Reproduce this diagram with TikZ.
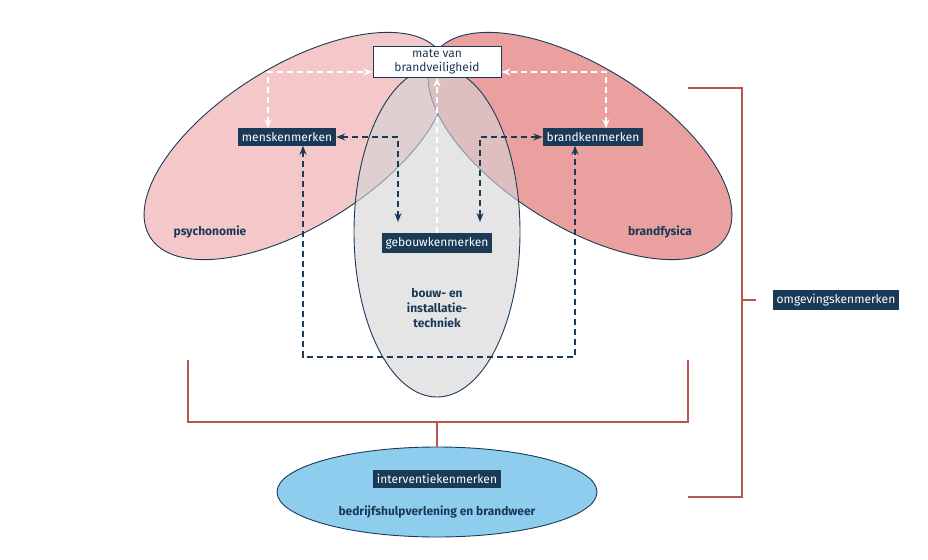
\documentclass[tikz,border=0pt]{standalone}
\usepackage{fontspec}
\setmainfont{Fira Sans}
\usetikzlibrary{arrows.meta}
\definecolor{navy}{HTML}{1B3A57}
\definecolor{lpink}{HTML}{F4C8C8}
\definecolor{dpink}{HTML}{EBA0A0}
\definecolor{gr}{HTML}{D4D4D6}
\definecolor{blu}{HTML}{8FCDEF}
\definecolor{brk}{HTML}{B5574F}
\begin{document}
\begin{tikzpicture}[x=1pt,y=-1pt,
 >={Stealth[length=9pt,width=7pt]},
 lab/.style={fill=navy,text=white,font=\fontsize{12}{14}\selectfont,inner sep=4pt},
 txt/.style={text=navy,font=\fontsize{12}{15}\selectfont\bfseries,align=center},
 nd/.style={navy,dash pattern=on 6pt off 4pt,line width=1.3pt},
 wd/.style={white,dash pattern=on 6pt off 4pt,line width=1.3pt},
 ell/.style={draw=navy,line width=0.9pt},
 br/.style={brk,line width=1.1pt}]
\useasboundingbox (0,0) rectangle (928,559);
\fill[white] (0,0) rectangle (928,559);
\draw[ell,fill=lpink] (296,146) ellipse[x radius=172,y radius=80,rotate=32];
\draw[ell,fill=dpink] (580,146) ellipse[x radius=172,y radius=80,rotate=-32];
\draw[ell,fill=gr,fill opacity=0.6] (437,232) ellipse[x radius=83,y radius=165];
\draw[ell,fill=blu] (437,492) ellipse[x radius=160,y radius=45];
% brackets
\draw[br] (188,360) -- (188,422) -- (688,422) -- (688,360);
\draw[br] (437,422) -- (437,447);
\draw[br] (688,88) -- (742,88) -- (742,497) -- (688,497);
\draw[br] (742,300) -- (756,300);
% nodes
\node[draw=navy,line width=1pt,fill=white,font=\fontsize{12}{14}\selectfont,align=center,minimum width=128pt,inner sep=3pt,text=navy] (mate) at (437,62) {mate van\\brandveiligheid};
\node[lab] (mens) at (287,137) {menskenmerken};
\node[lab] (brand) at (593,137) {brandkenmerken};
\node[lab] (geb) at (437,243) {gebouwkenmerken};
\node[lab] (omg) at (836,300) {omgevingskenmerken};
\node[lab] (int) at (437,479) {interventiekenmerken};
\node[txt] (psy) at (210,232) {psychonomie};
\node[txt] (bf) at (660,232) {brandfysica};
\node[txt] (bit) at (437,308) {bouw- en\\installatie-\\techniek};
\node[txt] (bhv) at (437,512) {bedrijfshulpverlening en brandweer};
% white dashed arrows
\draw[wd,<->] (mens.north -| 268,0) -- (268,72) -- (mate.west |- 0,72);
\draw[wd,<->] (brand.north -| 606,0) -- (606,72) -- (mate.east |- 0,72);
\draw[wd,->] (geb.north) -- (mate.south);
% navy dashed
\draw[nd,<->] (mens.east) -- (398,137) -- (398,222);
\draw[nd,<->] (brand.west) -- (480,137) -- (480,222);
\draw[nd,<->] (mens.south -| 303,0) -- (303,357) -- (575,357) -- (brand.south -| 575,0);
\end{tikzpicture}
\end{document}
